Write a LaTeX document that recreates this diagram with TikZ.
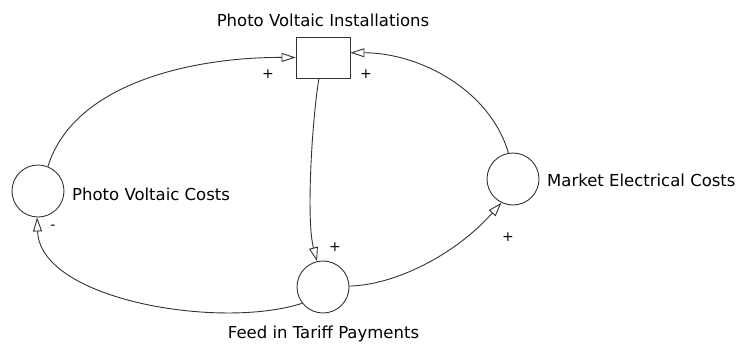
\documentclass[tikz,border=0pt]{standalone}
\usepackage{fontspec}
\setmainfont{DejaVu Sans}
\usetikzlibrary{arrows.meta}
\begin{document}
\begin{tikzpicture}[x=1pt, y=-1pt, >={Triangle[open,length=14pt,width=9pt]},
    font=\fontsize{16.5}{20}\selectfont,
    aux/.style={circle, draw=black!80, line width=0.9pt, minimum size=52pt, inner sep=0pt},
    stock/.style={rectangle, draw=black!80, line width=0.9pt, minimum width=54pt, minimum height=41pt, inner sep=0pt},
    link/.style={->, draw=black!80, line width=0.9pt},
    sign/.style={inner sep=0pt, font=\fontsize{14}{16}\selectfont}]
    \useasboundingbox (0,0) rectangle (738,343);

    \node[stock] (pvi) at (323,57.5) {};
    \node[aux] (pvc) at (38,191) {};
    \node[aux] (mec) at (513,179) {};
    \node[aux] (fit) at (323,287) {};

    \node[anchor=base, inner sep=0pt] (pvi label) at (323,26) {Photo Voltaic Installations};
    \node[anchor=base west, inner sep=0pt] (pvc label) at (72,200) {Photo Voltaic Costs};
    \node[anchor=base west, inner sep=0pt] (mec label) at (547,186) {Market Electrical Costs};
    \node[anchor=base, inner sep=0pt] (fit label) at (323.5,338) {Feed in Tariff Payments};

    \draw[link] (pvc.68) .. controls (75,80) and (200,57) .. (pvi.west);
    \draw[link] (mec.100) .. controls (490,90) and (420,53) .. (pvi.10);
    \draw[link] (pvi.-101) .. controls (312,120) and (306,220) .. (fit.103);
    \draw[link] (fit.2) .. controls (395,285) and (455,255) .. (mec.-116);
    \draw[link] (fit.-142) .. controls (220,330) and (40,300) .. (pvc.-92);

    \node[sign] (pvc to pvi) at (268,74) {+};
    \node[sign] (mec to pvi) at (366,74) {+};
    \node[sign] (pvi to fit) at (335,247) {+};
    \node[sign] (fit to mec) at (508,237) {+};
    \node[sign] (fit to pvc) at (53,227) {-};
\end{tikzpicture}
\end{document}
